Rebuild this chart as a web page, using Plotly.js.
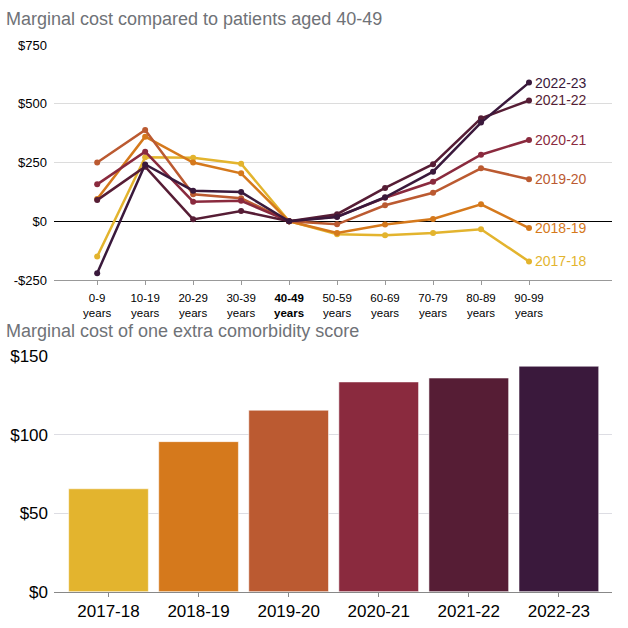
<!DOCTYPE html>
<html>
<head>
<meta charset="utf-8">
<script src="https://cdn.plot.ly/plotly-3.0.1.min.js"></script>
<style>
  html, body { margin: 0; padding: 0; background: #fff; }
  #chart { width: 628px; height: 628px; }
</style>
</head>
<body>
<div id="chart"></div>
<script>
// age bands (top chart)
var ageBands = ['0-9', '10-19', '20-29', '30-39', '40-49', '50-59', '60-69', '70-79', '80-89', '90-99'];
var years = ['2017-18', '2018-19', '2019-20', '2020-21', '2021-22', '2022-23'];
var colors = ['#E3B42E', '#D5791C', '#BB5A31', '#8A2A3E', '#561D35', '#3A193C'];

// marginal cost vs 40-49, one array per year
var cost1718 = [-150, 272, 270, 245, 0, -55, -60, -50, -34, -171];
var cost1819 = [95, 360, 250, 204, 0, -50, -14, 10, 72, -29];
var cost1920 = [250, 388, 115, 98, 0, -13, 68, 121, 225, 179];
var cost2021 = [157, 296, 83, 87, 0, 20, 100, 168, 283, 346];
var cost2122 = [90, 232, 8, 44, 0, 30, 142, 243, 438, 514];
var cost2223 = [-221, 242, 130, 124, 0, 18, 102, 211, 420, 590];
var lineSeries = [cost1718, cost1819, cost1920, cost2021, cost2122, cost2223];

var topTickVals = [-250, 0, 250, 500, 750];
var topTickText = ['-$250', '$0', '$250', '$500', '$750'];

// marginal cost of one extra comorbidity score (bottom chart)
var comorbCost = [65.5, 95.5, 115.5, 133.5, 136, 143.5];
var botTickVals = [0, 50, 100, 150];
var botTickText = ['$0', '$50', '$100', '$150'];

var ageIdx = ageBands.map(function(a, i) { return i; });
var ageLabels = ageBands.map(function(a) {
  return a === '40-49' ? '<b>' + a + '<br>years</b>' : a + '<br>years';
});

var data = [];
var annotations = [];
lineSeries.forEach(function(s, i) {
  data.push({
    type: 'scatter',
    mode: 'lines+markers',
    x: ageIdx,
    y: s,
    xaxis: 'x',
    yaxis: 'y',
    line: { color: colors[i], width: 2.5 },
    marker: { color: colors[i], size: 6 },
    hoverinfo: 'skip',
    showlegend: false
  });
  // year label at the end of each line
  annotations.push({
    xref: 'x', yref: 'y',
    x: ageIdx[ageIdx.length - 1],
    y: s[s.length - 1],
    text: years[i],
    showarrow: false,
    xanchor: 'left',
    yanchor: 'middle',
    xshift: 4,
    font: { family: 'Liberation Sans, Arial, sans-serif', size: 14, color: colors[i] }
  });
});

data.push({
  type: 'bar',
  x: years,
  y: comorbCost,
  xaxis: 'x2',
  yaxis: 'y2',
  marker: { color: colors, line: { color: 'rgba(255,255,255,0.55)', width: 1 } },
  hoverinfo: 'skip',
  showlegend: false
});

annotations.push({
  xref: 'paper', yref: 'paper',
  x: -0.09, y: 1 - 19 / 628,
  xanchor: 'left', yanchor: 'middle',
  showarrow: false,
  text: 'Marginal cost compared to patients aged 40-49',
  font: { family: 'Liberation Sans, Arial, sans-serif', size: 18, color: '#6f7277' }
});
annotations.push({
  xref: 'paper', yref: 'paper',
  x: -0.09, y: 1 - 331 / 628,
  xanchor: 'left', yanchor: 'middle',
  showarrow: false,
  text: 'Marginal cost of one extra comorbidity score',
  font: { family: 'Liberation Sans, Arial, sans-serif', size: 18, color: '#6f7277' }
});

var layout = {
  width: 628,
  height: 628,
  margin: { l: 54, r: 16, t: 0, b: 0 },
  paper_bgcolor: '#fff',
  plot_bgcolor: '#fff',
  font: { family: 'Liberation Sans, Arial, sans-serif', color: '#000' },
  showlegend: false,
  xaxis: {
    domain: [0, 1],
    anchor: 'y',
    range: [-0.9, 10.73],
    tickvals: ageIdx,
    ticktext: ageLabels,
    tickfont: { size: 11.5, color: '#000' },
    ticklabelstandoff: 3,
    showgrid: false,
    zeroline: false,
    showline: true,
    linecolor: '#999',
    linewidth: 1,
    ticks: 'outside',
    ticklen: 4,
    tickcolor: '#999'
  },
  yaxis: {
    domain: [1 - 280 / 628, 1 - 45 / 628],
    anchor: 'x',
    range: [-250, 750],
    tickvals: topTickVals,
    ticktext: topTickText,
    tickfont: { size: 13, color: '#000' },
    ticklabelstandoff: 6,
    showgrid: true,
    gridcolor: '#dcdcdc',
    zeroline: true,
    zerolinecolor: '#000',
    zerolinewidth: 1,
    showline: false,
    ticks: ''
  },
  xaxis2: {
    domain: [0, 1],
    anchor: 'y2',
    type: 'category',
    range: [-0.605, 5.59],
    tickfont: { size: 17, color: '#000' },
    showgrid: false,
    showline: true,
    linecolor: '#888',
    ticks: 'outside',
    ticklen: 4,
    tickcolor: '#888'
  },
  yaxis2: {
    domain: [1 - 591.7 / 628, 1 - 356 / 628],
    anchor: 'x2',
    range: [0, 150],
    tickvals: botTickVals,
    ticktext: botTickText,
    tickfont: { size: 17, color: '#000' },
    ticklabelstandoff: 5,
    showgrid: true,
    gridcolor: '#dddde3',
    zeroline: false,
    ticks: ''
  },
  bargap: 0.115,
  annotations: annotations
};

Plotly.newPlot('chart', data, layout, { displayModeBar: false, staticPlot: true });
</script>
</body>
</html>
